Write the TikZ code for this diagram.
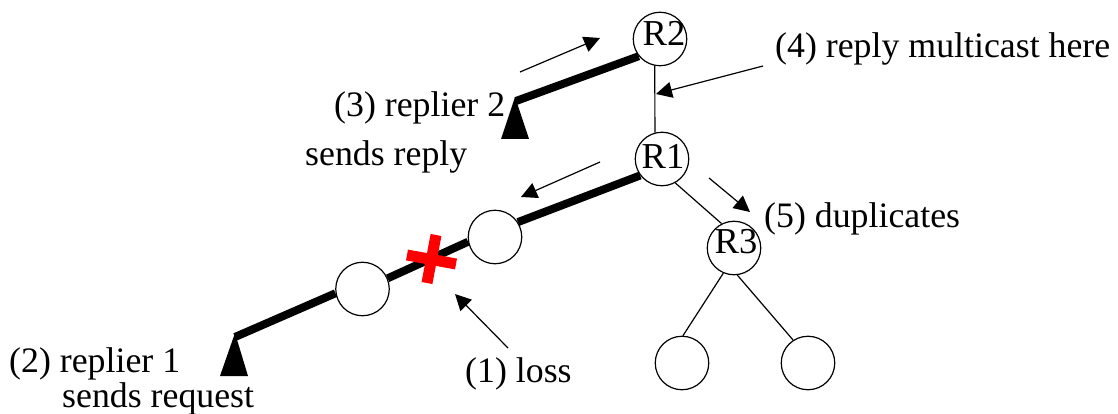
\documentclass[tikz,border=0pt]{standalone}
\usepackage{fontspec}
\setmainfont{Liberation Serif}
\usetikzlibrary{arrows.meta}
\newcommand{\rtext}[3]{\makebox[0pt]{\hspace*{#1}\smash{\raisebox{#2}{#3}}}}
\tikzset{
  x=1pt,y=-1pt,
  router/.style={circle,draw=black,line width=1.2pt,fill=white,minimum size=53.5pt,inner sep=0pt,font=\fontsize{36.5}{36.5}\selectfont},
  thin link/.style={draw=black,line width=1.2pt},
  thick link/.style={draw=black,line width=8pt},
  pointer/.style={draw=black,line width=1.2pt,-{Triangle[length=16pt,width=16pt]}},
  lbl/.style={anchor=base west,inner sep=0pt,font=\fontsize{35.8}{35.8}\selectfont},
  replier/.style={fill=black},
  cross/.style={draw=red,line width=11pt}
}
\begin{document}
\begin{tikzpicture}
\useasboundingbox (0,0) rectangle (1118,414);
\coordinate (t2) at (516,101);
\coordinate (t1) at (235,337);
\fill[replier] (515,97) -- (529,139) -- (501,139) -- cycle;
\fill[replier] (235,333) -- (248,376) -- (220,376) -- cycle;
\node[router] (R2) at (660,39) {\rtext{8pt}{-7pt}{R2}};
\node[router] (R1) at (662,159) {\rtext{2pt}{-10pt}{R1}};
\node[router] (R3) at (734,248) {\rtext{4pt}{-5pt}{R3}};
\node[router] (A) at (495,237) {};
\node[router] (B) at (362.5,289) {};
\node[router] (C) at (682,363) {};
\node[router] (D) at (808,363) {};
\draw[thin link] (R2.259) -- (R1.105);
\draw[thin link] (R1.299) -- (R3.117);
\draw[thin link] (R3.247) -- (C.88);
\draw[thin link] (R3.277) -- (D.123);
\draw[thick link] (t2) -- (R2.219);
\draw[thick link] (R1.217) -- (A.33);
\draw[thick link] (A.190) -- (B.23);
\draw[thick link] (B.189) -- (t1);
\draw[cross] (436,235) -- (427,283);
\draw[cross] (407,255) -- (456,264);
\coordinate (a1s) at (520,72); \coordinate (a1e) at (600,38);
\coordinate (a2s) at (600,162); \coordinate (a2e) at (521,197);
\coordinate (a3s) at (763,66); \coordinate (a3e) at (656,94);
\coordinate (a4s) at (709,178); \coordinate (a4e) at (750,212);
\coordinate (a5s) at (508,348); \coordinate (a5e) at (455,294);
\draw[pointer] (a1s) -- (a1e);
\draw[pointer] (a2s) -- (a2e);
\draw[pointer] (a3s) -- (a3e);
\draw[pointer] (a4s) -- (a4e);
\draw[pointer] (a5s) -- (a5e);
\node[lbl] (l4) at (775,58) {(4) reply multicast here};
\node[lbl] (l3) at (334,117) {(3) replier 2};
\node[lbl] (l3b) at (305,166) {sends reply};
\node[lbl] (l5) at (764,227) {(5) duplicates};
\node[lbl] (l2) at (9,372) {(2) replier 1};
\node[lbl] (l2b) at (62,407) {sends request};
\node[lbl] (l1) at (465,382) {(1) loss};
\end{tikzpicture}
\end{document}
